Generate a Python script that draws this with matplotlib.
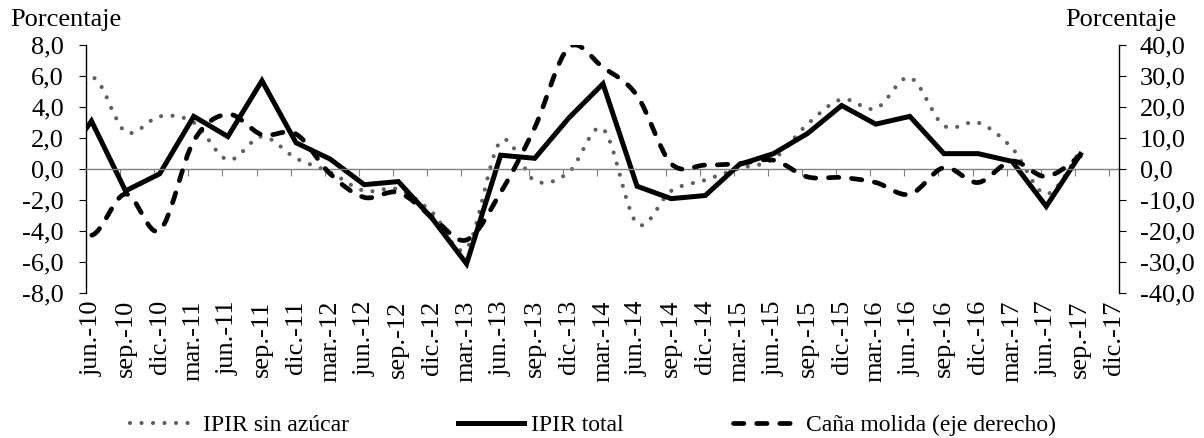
import matplotlib
matplotlib.use("Agg")
import matplotlib.pyplot as plt
from matplotlib.path import Path
from matplotlib.patches import PathPatch
from matplotlib.lines import Line2D
from matplotlib.ticker import FuncFormatter
import numpy as np

plt.rcParams['font.family'] = ['Liberation Serif', 'DejaVu Serif']
plt.rcParams['font.size'] = 19

# quarterly labels shown on the axis
quarters = ['jun.-10', 'sep.-10', 'dic.-10', 'mar.-11', 'jun.-11', 'sep.-11', 'dic.-11',
            'mar.-12', 'jun.-12', 'sep.-12', 'dic.-12', 'mar.-13', 'jun.-13', 'sep.-13',
            'dic.-13', 'mar.-14', 'jun.-14', 'sep.-14', 'dic.-14', 'mar.-15', 'jun.-15',
            'sep.-15', 'dic.-15', 'mar.-16', 'jun.-16', 'sep.-16', 'dic.-16', 'mar.-17',
            'jun.-17', 'sep.-17', 'dic.-17']

# series run from mar.-10 (just left of the axis, clipped) to sep.-17
ipir_sin_azucar = [1.5, 5.9, 2.4, 3.4, 3.0, 0.6, 2.1, 0.7, -0.2, -1.4, -1.3, -2.8, -5.1,
                   1.8, -0.75, -0.2, 2.6, -3.5, -1.4, -0.7, 0.05, 0.65, 2.9, 4.5, 3.9,
                   5.9, 2.8, 3.0, 1.35, -1.6, 1.2]
ipir_total = [0.0, 3.1, -1.4, -0.3, 3.4, 2.1, 5.7, 1.7, 0.65, -1.0, -0.8, -3.2, -6.1,
              0.9, 0.7, 3.3, 5.5, -1.1, -1.9, -1.7, 0.3, 1.0, 2.3, 4.1, 2.9, 3.4, 1.0,
              1.0, 0.5, -2.4, 0.95]
cana_molida = [-12.0, -21.3, -8.0, -19.7, 9.1, 17.7, 11.1, 11.3, -1.5, -9.1, -7.5, -15.5,
               -22.8, -7.5, 13.4, 39.2, 32.8, 23.7, 1.8, 1.3, 1.8, 2.9, -2.5, -2.7, -4.3,
               -8.1, 0.5, -4.3, 2.6, -2.4, 4.3]

# data sit mid-month, ticks at the start of each quarter month
offset = 0.16
xticks = np.arange(len(quarters))
xdata = np.arange(-1, len(ipir_total) - 1) + offset


def smooth_path(x, y):
    # catmull-rom as cubic bezier, like excel smoothed lines
    n = len(x)
    verts = [(x[0], y[0])]
    codes = [Path.MOVETO]
    for i in range(n - 1):
        a = i - 1 if i > 0 else i
        b = i + 2 if i + 2 < n else i + 1
        c1 = (x[i] + (x[i + 1] - x[a]) / 6, y[i] + (y[i + 1] - y[a]) / 6)
        c2 = (x[i + 1] - (x[b] - x[i]) / 6, y[i + 1] - (y[b] - y[i]) / 6)
        verts += [c1, c2, (x[i + 1], y[i + 1])]
        codes += [Path.CURVE4] * 3
    return Path(verts, codes)


gray = '#606060'
dot_style = (0, (0.01, 2.75))
dash_style = (0, (2.2, 2.7))

fig = plt.figure(figsize=(12.04, 4.38), dpi=100)
ax = fig.add_axes([86 / 1204, 1 - 293.3 / 438, (1119 - 86) / 1204, (293.3 - 45) / 438])
ax2 = ax.twinx()

p1 = PathPatch(smooth_path(xdata, ipir_sin_azucar), fill=False, edgecolor=gray, lw=3.0,
               linestyle=dot_style, capstyle='round')
ax.add_patch(p1)
ax.plot(xdata, ipir_total, color='black', lw=3.6, solid_joinstyle='miter')
p3 = PathPatch(smooth_path(xdata, cana_molida), fill=False, edgecolor='black', lw=3.4,
               linestyle=dash_style, capstyle='round')
ax2.add_patch(p3)

ax.set_xlim(0, (1119 - 86) / 34.1)
ax.set_ylim(-8, 8)
ax2.set_ylim(-40, 40)
ax.set_yticks(np.arange(-8, 9, 2))
ax2.set_yticks(np.arange(-40, 41, 10))
fmt = FuncFormatter(lambda v, p: ('%.1f' % v).replace('.', ','))
ax.yaxis.set_major_formatter(fmt)
ax2.yaxis.set_major_formatter(fmt)

for a in (ax, ax2):
    a.spines['top'].set_visible(False)
    a.spines['bottom'].set_visible(False)
    a.spines['left'].set_linewidth(1.0)
    a.spines['right'].set_linewidth(1.0)
ax2.spines['left'].set_visible(False)
ax.spines['right'].set_visible(False)

# zero line with the category ticks on it
ax.spines['bottom'].set_visible(True)
ax.spines['bottom'].set_position(('data', 0))
ax.spines['bottom'].set_color('#808080')
ax.spines['bottom'].set_linewidth(1.0)
ax.set_xticks(xticks)
ax.tick_params(axis='x', direction='out', length=5, width=0.8, color='#808080',
               labelbottom=False)
ax.tick_params(axis='y', direction='out', length=5, width=0.8, pad=11)
ax2.tick_params(axis='y', direction='out', length=5, width=0.8, pad=10)

sec = ax.secondary_xaxis('bottom')
sec.set_xticks(xticks + offset, quarters, rotation=90)
sec.tick_params(length=0, pad=5)
sec.spines['bottom'].set_visible(False)

fig.text(10 / 1204, 1 - 26 / 438, 'Porcentaje', ha='left', va='baseline')
fig.text(1176 / 1204, 1 - 26 / 438, 'Porcentaje', ha='right', va='baseline')

handles = [Line2D([], [], color=gray, lw=3.0, linestyle=dot_style, dash_capstyle='round'),
           Line2D([], [], color='black', lw=3.6),
           Line2D([], [], color='black', lw=3.4, linestyle=dash_style, dash_capstyle='round')]
labels = ['IPIR sin azúcar', 'IPIR total', 'Caña molida (eje derecho)']
fig.legend(handles, labels, loc='center', bbox_to_anchor=(593 / 1204, 1 - 425 / 438),
           ncol=3, frameon=False, handlelength=2.8, handletextpad=0.3,
           columnspacing=4.6, borderaxespad=0, borderpad=0, fontsize=17)

fig.savefig('out.png', dpi=100)
